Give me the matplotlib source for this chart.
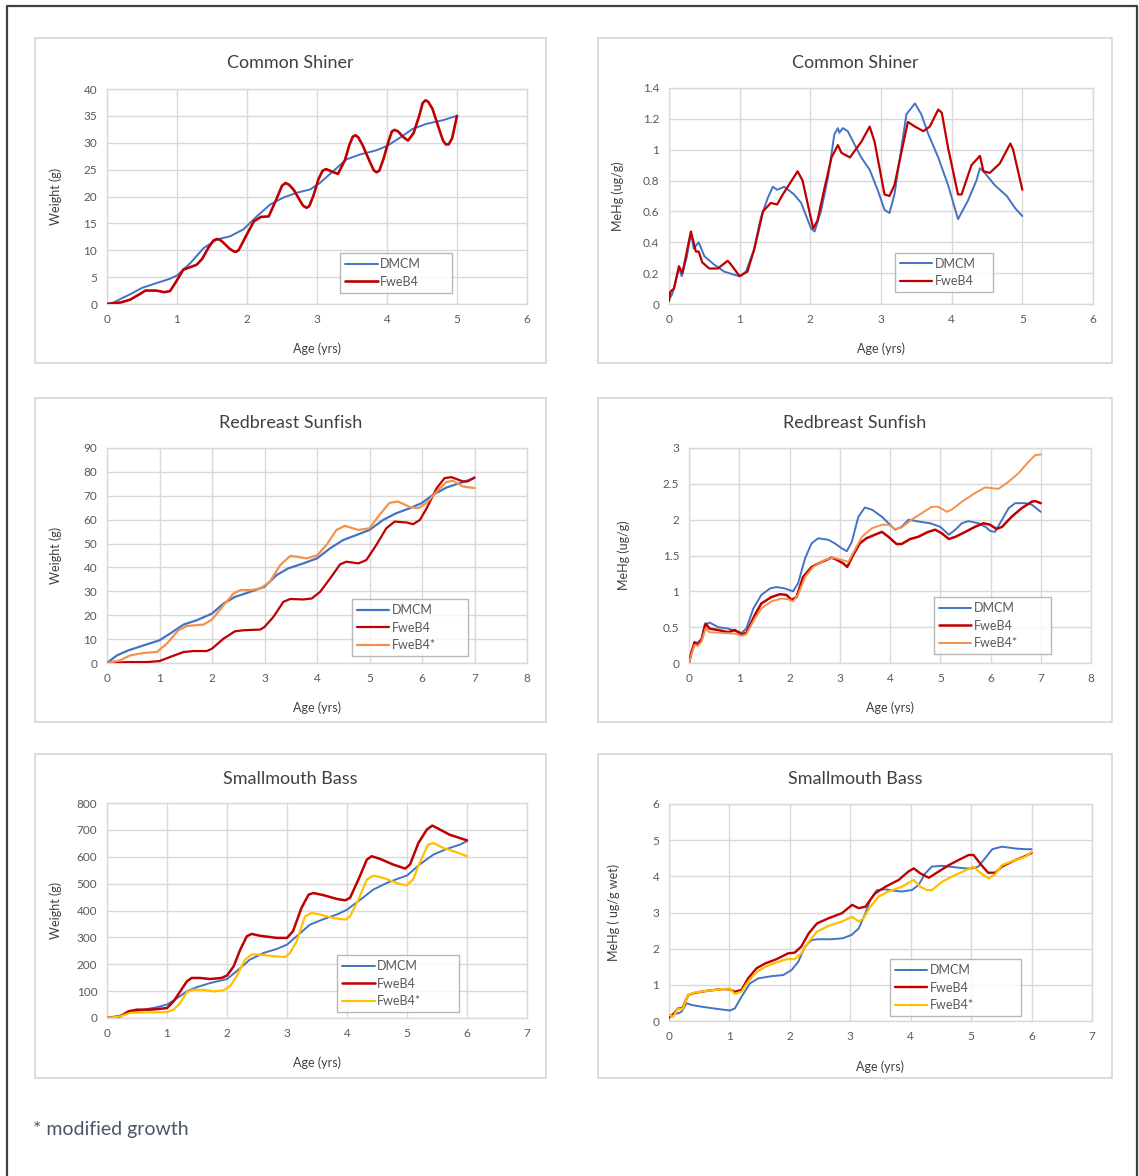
import numpy as np
import matplotlib
matplotlib.use("Agg")
import matplotlib.pyplot as plt
from matplotlib.patches import Rectangle
from matplotlib.lines import Line2D
from matplotlib.ticker import MultipleLocator, FuncFormatter

plt.rcParams["font.family"] = ["Lato", "DejaVu Sans"]

# --- Common Shiner, weight (g) ---
cs_wt_dmcm_age = [0, 0.1, 0.2, 0.33, 0.5, 0.71, 0.9, 1.0, 1.19, 1.38, 1.57, 1.76, 1.95, 2.14, 2.33,
                  2.52, 2.71, 2.9, 3.04, 3.23, 3.42, 3.61, 3.85, 4.0, 4.18, 4.37, 4.56, 4.8, 5.0]
cs_wt_dmcm = [0, 0.3, 1.0, 1.8, 3.0, 3.9, 4.7, 5.3, 7.6, 10.4, 12.0, 12.6, 13.9, 16.3, 18.5,
              19.8, 20.7, 21.3, 22.5, 24.7, 26.9, 27.8, 28.6, 29.4, 30.9, 32.6, 33.5, 34.2, 35.0]
cs_wt_fwe_age = [0, 0.2, 0.33, 0.45, 0.55, 0.7, 0.82, 0.9, 0.98, 1.09, 1.2, 1.28, 1.36, 1.45, 1.52,
                 1.57, 1.62, 1.68, 1.75, 1.81, 1.84, 1.88, 1.94, 2.02, 2.1, 2.2, 2.31, 2.42, 2.5,
                 2.55, 2.6, 2.67, 2.75, 2.8, 2.85, 2.89, 2.95, 3.02, 3.08, 3.13, 3.2, 3.3, 3.4,
                 3.46, 3.51, 3.55, 3.59, 3.65, 3.75, 3.81, 3.85, 3.89, 3.95, 4.02, 4.07, 4.11,
                 4.16, 4.22, 4.3, 4.38, 4.46, 4.51, 4.55, 4.59, 4.65, 4.72, 4.8, 4.84, 4.88,
                 4.93, 5.0]
cs_wt_fwe = [0, 0.3, 0.8, 1.7, 2.5, 2.5, 2.2, 2.4, 4.0, 6.4, 6.9, 7.3, 8.4, 10.5, 11.8,
             12.1, 11.9, 11.2, 10.3, 9.8, 9.7, 10.0, 11.5, 13.5, 15.4, 16.2, 16.3, 19.5, 22.0,
             22.5, 22.2, 21.2, 19.4, 18.3, 17.9, 18.2, 20.2, 23.2, 24.8, 25.1, 24.7, 24.2, 26.8,
             29.5, 31.1, 31.4, 31.0, 29.6, 26.6, 24.9, 24.5, 24.8, 27.0, 30.2, 32.1, 32.4,
             32.1, 31.2, 30.4, 31.8, 35.0, 37.4, 37.9, 37.6, 36.3, 33.5, 30.4, 29.7, 29.7,
             30.8, 35.0]

# --- Common Shiner, MeHg (ug/g) ---
cs_hg_dmcm_age = [0, 0.04, 0.07, 0.14, 0.18, 0.25, 0.31, 0.35, 0.42, 0.5, 0.64, 0.78, 0.92, 1.0,
                  1.09, 1.2, 1.3, 1.4, 1.47, 1.53, 1.63, 1.77, 1.87, 2.01, 2.06, 2.15, 2.25, 2.34,
                  2.39, 2.41, 2.46, 2.53, 2.63, 2.72, 2.84, 2.96, 3.05, 3.12, 3.19, 3.36, 3.48,
                  3.57, 3.67, 3.81, 3.95, 4.09, 4.23, 4.35, 4.4, 4.45, 4.61, 4.78, 4.9, 5.0]
cs_hg_dmcm = [0.03, 0.06, 0.1, 0.23, 0.18, 0.3, 0.46, 0.36, 0.4, 0.31, 0.255, 0.21, 0.19, 0.18,
              0.21, 0.35, 0.56, 0.69, 0.76, 0.74, 0.76, 0.71, 0.655, 0.49, 0.47, 0.6, 0.82, 1.1,
              1.14, 1.11, 1.14, 1.12, 1.03, 0.95, 0.87, 0.73, 0.61, 0.59, 0.71, 1.23, 1.3,
              1.23, 1.1, 0.95, 0.77, 0.55, 0.67, 0.8, 0.88, 0.86, 0.77, 0.7, 0.62, 0.57]
cs_hg_fwe_age = [0, 0.02, 0.07, 0.14, 0.19, 0.31, 0.38, 0.42, 0.47, 0.57, 0.69, 0.83, 0.87, 1.0,
                 1.11, 1.21, 1.33, 1.44, 1.53, 1.61, 1.82, 1.89, 2.04, 2.1, 2.2, 2.3, 2.39, 2.44,
                 2.56, 2.72, 2.84, 2.91, 3.05, 3.12, 3.19, 3.38, 3.48, 3.6, 3.69, 3.81, 3.86, 3.95,
                 4.09, 4.14, 4.28, 4.4, 4.45, 4.54, 4.68, 4.83, 4.87, 5.0]
cs_hg_fwe = [0.02, 0.08, 0.1, 0.245, 0.2, 0.47, 0.34, 0.34, 0.27, 0.23, 0.23, 0.28, 0.26, 0.18,
             0.21, 0.36, 0.6, 0.655, 0.645, 0.71, 0.86, 0.8, 0.49, 0.54, 0.75, 0.95, 1.03, 0.98,
             0.95, 1.05, 1.15, 1.05, 0.71, 0.7, 0.77, 1.18, 1.15, 1.12, 1.15, 1.26, 1.24, 1.01,
             0.71, 0.71, 0.9, 0.96, 0.86, 0.85, 0.91, 1.04, 1.0, 0.74]

# --- Redbreast Sunfish, weight (g) ---
rb_wt_dmcm_age = [0, 0.19, 0.41, 0.7, 1.0, 1.2, 1.46, 1.71, 2.0, 2.22, 2.44, 2.73, 3.0, 3.23, 3.45,
                  3.74, 4.0, 4.25, 4.5, 4.79, 5.0, 5.26, 5.51, 5.77, 6.0, 6.21, 6.47, 6.72, 7.0]
rb_wt_dmcm = [0, 3.2, 5.3, 7.4, 9.5, 12.3, 16.1, 17.9, 20.7, 24.9, 27.7, 29.8, 31.9, 36.8, 39.6,
              41.7, 43.8, 48.0, 51.5, 53.9, 55.7, 59.9, 62.7, 64.8, 67.0, 70.4, 73.5, 75.3, 77.4]
rb_wt_fwe_age = [0, 0.44, 0.76, 1.0, 1.2, 1.46, 1.65, 1.9, 2.0, 2.22, 2.44, 2.6, 2.92, 3.0, 3.17,
                 3.36, 3.49, 3.74, 3.9, 4.06, 4.25, 4.44, 4.56, 4.79, 4.94, 5.13, 5.32, 5.48, 5.71,
                 5.83, 5.96, 6.09, 6.28, 6.43, 6.56, 6.78, 6.87, 7.0]
rb_wt_fwe = [0, 0.4, 0.4, 0.8, 2.5, 4.6, 5.0, 5.0, 6.0, 10.2, 13.3, 13.7, 14.0, 15.1, 19.3,
             25.6, 26.8, 26.6, 27.0, 29.8, 35.4, 41.3, 42.4, 41.7, 43.1, 49.4, 56.4, 59.2, 58.8,
             58.1, 59.9, 64.8, 73.2, 77.4, 77.8, 76.0, 76.0, 77.7]
rb_wt_mod_age = [0, 0.25, 0.44, 0.7, 0.95, 1.14, 1.36, 1.52, 1.84, 2.0, 2.22, 2.41, 2.54, 2.73,
                 2.92, 3.1, 3.3, 3.49, 3.61, 3.8, 4.0, 4.18, 4.37, 4.53, 4.79, 5.0, 5.19, 5.38,
                 5.54, 5.77, 5.93, 6.09, 6.28, 6.47, 6.59, 6.78, 7.0]
rb_wt_mod = [0, 1.1, 3.2, 4.2, 4.6, 8.1, 13.7, 15.5, 16.1, 18.2, 24.2, 29.1, 30.5, 30.5,
             31.2, 34.0, 41.0, 44.8, 44.5, 43.8, 45.0, 49.4, 55.7, 57.4, 55.7, 56.4, 62.0, 67.0,
             67.6, 65.3, 64.8, 67.0, 71.8, 75.8, 76.3, 73.9, 73.2]

# --- Redbreast Sunfish, MeHg (ug/g) ---
rb_hg_dmcm_age = [0, 0.05, 0.11, 0.18, 0.25, 0.31, 0.41, 0.58, 0.78, 0.91, 1.05, 1.14, 1.28, 1.44,
                  1.61, 1.74, 1.91, 2.07, 2.17, 2.31, 2.44, 2.57, 2.77, 2.9, 3.04, 3.14, 3.24, 3.37,
                  3.5, 3.64, 3.84, 4.0, 4.1, 4.23, 4.37, 4.6, 4.8, 5.0, 5.17, 5.3, 5.43, 5.56,
                  5.76, 5.9, 6.0, 6.09, 6.23, 6.36, 6.49, 6.69, 6.82, 7.0]
rb_hg_dmcm = [0.01, 0.15, 0.27, 0.29, 0.34, 0.53, 0.565, 0.5, 0.48, 0.45, 0.42, 0.48, 0.76, 0.95,
              1.04, 1.06, 1.04, 1.0, 1.11, 1.46, 1.67, 1.74, 1.72, 1.67, 1.6, 1.56, 1.69, 2.04,
              2.17, 2.14, 2.04, 1.93, 1.86, 1.9, 2.0, 1.97, 1.95, 1.9, 1.79, 1.86, 1.95, 1.98,
              1.95, 1.9, 1.84, 1.83, 2.0, 2.16, 2.23, 2.23, 2.21, 2.11]
rb_hg_fwe_age = [0, 0.05, 0.11, 0.18, 0.25, 0.33, 0.41, 0.58, 0.78, 0.91, 1.05, 1.14, 1.31, 1.44,
                 1.64, 1.81, 1.94, 2.04, 2.14, 2.27, 2.44, 2.64, 2.84, 2.94, 3.07, 3.15, 3.27, 3.4,
                 3.53, 3.7, 3.84, 3.97, 4.13, 4.23, 4.4, 4.56, 4.76, 4.9, 5.03, 5.17, 5.3, 5.5,
                 5.69, 5.86, 5.99, 6.12, 6.23, 6.42, 6.62, 6.82, 6.89, 7.0]
rb_hg_fwe = [0.0, 0.15, 0.29, 0.26, 0.32, 0.55, 0.48, 0.46, 0.43, 0.46, 0.4, 0.42, 0.67, 0.83,
             0.92, 0.96, 0.95, 0.88, 0.92, 1.2, 1.34, 1.41, 1.47, 1.44, 1.39, 1.34, 1.51, 1.67,
             1.74, 1.79, 1.83, 1.76, 1.66, 1.66, 1.73, 1.76, 1.83, 1.86, 1.81, 1.73, 1.76, 1.83,
             1.9, 1.95, 1.93, 1.87, 1.9, 2.04, 2.16, 2.25, 2.26, 2.23]
rb_hg_mod_age = [0, 0.05, 0.11, 0.18, 0.25, 0.33, 0.41, 0.64, 0.91, 1.05, 1.14, 1.31, 1.44, 1.64,
                 1.84, 1.97, 2.07, 2.17, 2.31, 2.47, 2.71, 2.87, 3.04, 3.17, 3.3, 3.44, 3.64, 3.84,
                 3.97, 4.1, 4.23, 4.43, 4.63, 4.83, 4.96, 5.13, 5.23, 5.43, 5.69, 5.89, 6.02, 6.16,
                 6.36, 6.56, 6.76, 6.89, 7.0]
rb_hg_mod = [0.0, 0.12, 0.25, 0.24, 0.3, 0.48, 0.43, 0.42, 0.41, 0.38, 0.4, 0.62, 0.76, 0.86,
             0.9, 0.89, 0.86, 0.95, 1.2, 1.34, 1.44, 1.47, 1.44, 1.41, 1.58, 1.76, 1.88, 1.93,
             1.93, 1.87, 1.89, 2.0, 2.09, 2.18, 2.18, 2.11, 2.14, 2.25, 2.37, 2.45, 2.44, 2.43,
             2.53, 2.65, 2.81, 2.9, 2.91]

# --- Smallmouth Bass, weight (g) ---
sb_wt_dmcm_age = [0, 0.22, 0.39, 0.61, 0.83, 1.0, 1.17, 1.33, 1.5, 1.72, 2.0, 2.16, 2.38, 2.61,
                  2.83, 3.0, 3.16, 3.38, 3.61, 3.83, 4.0, 4.22, 4.44, 4.66, 4.88, 5.0, 5.21, 5.44,
                  5.66, 5.88, 6.0]
sb_wt_dmcm = [0, 9, 21, 31, 40, 50, 74, 99, 115, 130, 145, 174, 217, 242,
              257, 273, 304, 347, 368, 385, 403, 440, 478, 502, 521, 530, 571, 608,
              629, 645, 658]
sb_wt_fwe_age = [0, 0.22, 0.36, 0.5, 0.72, 0.92, 1.0, 1.11, 1.22, 1.33, 1.41, 1.55, 1.72, 1.91,
                 2.0, 2.11, 2.22, 2.33, 2.41, 2.55, 2.83, 3.0, 3.1, 3.24, 3.36, 3.44, 3.61, 3.83,
                 3.97, 4.05, 4.19, 4.33, 4.41, 4.55, 4.77, 4.97, 5.05, 5.19, 5.33, 5.42, 5.5,
                 5.71, 6.0]
sb_wt_fwe = [0, 6, 25, 31, 31, 35, 37, 62, 99, 136, 149, 149, 145, 149,
             158, 192, 254, 304, 313, 306, 298, 298, 323, 409, 459, 465, 457, 443,
             438, 447, 515, 589, 602, 592, 571, 556, 571, 651, 701, 716, 707,
             682, 661]
sb_wt_mod_age = [0, 0.22, 0.39, 0.61, 0.83, 1.0, 1.11, 1.22, 1.33, 1.44, 1.61, 1.77, 1.94, 2.05,
                 2.16, 2.3, 2.41, 2.55, 2.77, 2.97, 3.05, 3.16, 3.3, 3.41, 3.55, 3.77, 3.97, 4.05,
                 4.19, 4.33, 4.44, 4.61, 4.83, 4.99, 5.1, 5.21, 5.35, 5.44, 5.6, 5.82, 6.0]
sb_wt_mod = [0, 6, 19, 21, 21, 22, 31, 56, 96, 105, 105, 99, 103, 118,
             155, 217, 236, 236, 230, 227, 242, 285, 378, 391, 385, 372, 366, 378,
             440, 515, 530, 521, 502, 493, 515, 577, 645, 651, 633, 617, 602]

# --- Smallmouth Bass, MeHg (ug/g wet) ---
sb_hg_dmcm_age = [0, 0.07, 0.15, 0.21, 0.29, 0.38, 0.6, 0.82, 1.01, 1.09, 1.2, 1.34, 1.48, 1.7,
                  1.89, 2.03, 2.14, 2.25, 2.36, 2.47, 2.69, 2.88, 3.02, 3.14, 3.25, 3.33, 3.44,
                  3.58, 3.74, 3.85, 4.02, 4.13, 4.24, 4.35, 4.52, 4.74, 4.9, 5.01, 5.12, 5.23,
                  5.35, 5.51, 5.73, 5.9, 6.0]
sb_hg_dmcm = [0.07, 0.21, 0.21, 0.26, 0.49, 0.44, 0.38, 0.33, 0.29, 0.35, 0.67, 1.04, 1.18, 1.24,
              1.27, 1.41, 1.64, 2.06, 2.24, 2.26, 2.26, 2.29, 2.38, 2.56, 2.98, 3.35, 3.62,
              3.64, 3.6, 3.58, 3.62, 3.76, 4.08, 4.27, 4.29, 4.25, 4.22, 4.22, 4.27, 4.5,
              4.75, 4.82, 4.77, 4.75, 4.75]
sb_hg_fwe_age = [0, 0.07, 0.15, 0.22, 0.32, 0.43, 0.65, 0.87, 1.0, 1.09, 1.2, 1.31, 1.45, 1.59,
                 1.78, 1.97, 2.08, 2.19, 2.31, 2.45, 2.64, 2.86, 3.03, 3.14, 3.25, 3.41, 3.58,
                 3.8, 3.96, 4.05, 4.16, 4.3, 4.46, 4.63, 4.79, 4.96, 5.04, 5.17, 5.28, 5.4, 5.51,
                 5.73, 5.9, 6.0]
sb_hg_fwe = [0.12, 0.17, 0.35, 0.35, 0.72, 0.78, 0.84, 0.88, 0.88, 0.81, 0.86, 1.18, 1.46, 1.59,
             1.71, 1.87, 1.89, 2.06, 2.42, 2.7, 2.84, 2.98, 3.21, 3.12, 3.16, 3.53, 3.71,
             3.9, 4.13, 4.22, 4.08, 3.96, 4.13, 4.31, 4.45, 4.59, 4.59, 4.31, 4.1, 4.1, 4.27,
             4.45, 4.56, 4.65]
sb_hg_mod_age = [0, 0.07, 0.15, 0.22, 0.32, 0.43, 0.65, 0.87, 1.0, 1.09, 1.2, 1.31, 1.45, 1.59,
                 1.78, 1.95, 2.08, 2.19, 2.31, 2.45, 2.64, 2.86, 3.03, 3.14, 3.22, 3.33, 3.47,
                 3.63, 3.85, 4.05, 4.16, 4.27, 4.35, 4.52, 4.74, 4.9, 5.04, 5.15, 5.29, 5.4,
                 5.51, 5.73, 5.9, 6.0]
sb_hg_mod = [0.17, 0.12, 0.35, 0.32, 0.72, 0.79, 0.84, 0.88, 0.9, 0.75, 0.81, 1.09, 1.36, 1.5,
             1.62, 1.71, 1.71, 1.87, 2.19, 2.47, 2.63, 2.75, 2.88, 2.75, 2.84, 3.16, 3.44,
             3.58, 3.71, 3.9, 3.71, 3.62, 3.62, 3.85, 4.04, 4.16, 4.27, 4.1, 3.94, 4.06,
             4.31, 4.45, 4.54, 4.68]

BLUE = "#4472C4"
RED = "#C00000"
ORANGE = "#F4914B"
YELLOW = "#FFC000"

W, H = 1139, 1176
fig = plt.figure(figsize=(W / 100, H / 100), dpi=100)


def px_rect(x0, y0, x1, y1):
    # pixel box (top-left origin) -> figure fraction rect
    return [x0 / W, 1 - y1 / H, (x1 - x0) / W, (y1 - y0) / H]


# outer frame (left, top, right)
fig.add_artist(Line2D([7 / W, 7 / W, 1137 / W, 1137 / W], [0, 1 - 6 / H, 1 - 6 / H, 0],
                      color="#404040", lw=1.6, transform=fig.transFigure))

panels = [(35, 38, 546, 363), (598, 38, 1112, 363),
          (35, 398, 546, 722), (598, 398, 1112, 722),
          (35, 754, 546, 1078), (598, 754, 1112, 1078)]
for x0, y0, x1, y1 in panels:
    r = px_rect(x0, y0, x1, y1)
    fig.add_artist(Rectangle((r[0], r[1]), r[2], r[3], transform=fig.transFigure,
                             fill=False, edgecolor="#d9d9d9", lw=1.3))


def make_chart(box, panel, title, ylabel, xmax, ymax, ystep, series, leg_box, ylab_x):
    ax = fig.add_axes(px_rect(*box))
    for age, vals, color, lw, label in series:
        ax.plot(age, vals, color=color, lw=lw, label=label, solid_joinstyle="round",
                solid_capstyle="round", zorder=3)
    ax.set_xlim(0, xmax)
    ax.set_ylim(0, ymax)
    ax.xaxis.set_major_locator(MultipleLocator(1))
    ax.yaxis.set_major_locator(MultipleLocator(ystep))
    ax.yaxis.set_major_formatter(FuncFormatter(lambda v, p: f"{round(v, 2):g}"))
    ax.grid(True, color="#d9d9d9", lw=1.0)
    ax.set_axisbelow(True)
    for s in ax.spines.values():
        s.set_color("#d9d9d9")
        s.set_linewidth(1.0)
    ax.tick_params(length=0, labelsize=8.5, colors="#595959", pad=7)
    ax.set_xlabel("Age (yrs)", fontsize=9, color="#404040")
    ax.xaxis.set_label_coords(0.5, -0.18)
    ax.set_ylabel(ylabel, fontsize=9, color="#404040")
    ax.yaxis.set_label_coords(ylab_x, 0.5)
    # title centered on the panel
    px0, py0, px1, py1 = panel
    fig.text(((px0 + px1) / 2) / W, 1 - (py0 + 25) / H, title, ha="center", va="center",
             fontsize=13, color="#404040")
    lx0, ly0, lx1, ly1 = leg_box
    leg = ax.legend(loc="upper left", bbox_to_anchor=(lx0, ly0, lx1 - lx0, ly1 - ly0),
                    mode="expand", fontsize=9, frameon=True, fancybox=False,
                    handlelength=2.6, handletextpad=0.2, labelspacing=0.45,
                    borderpad=0.4, borderaxespad=0)
    leg.get_frame().set_edgecolor("#a6a6a6")
    leg.get_frame().set_linewidth(1.0)
    for t in leg.get_texts():
        t.set_color("#595959")
    return ax


make_chart((107, 89, 527, 304), panels[0], "Common Shiner", "Weight (g)", 6, 40, 5,
           [(cs_wt_dmcm_age, cs_wt_dmcm, BLUE, 1.4, "DMCM"),
            (cs_wt_fwe_age, cs_wt_fwe, RED, 1.9, "FweB4")],
           (0.555, 0.051, 0.821, 0.237), -0.107)

make_chart((669, 88, 1093, 304), panels[1], "Common Shiner", "MeHg (ug/g)", 6, 1.4, 0.2,
           [(cs_hg_dmcm_age, cs_hg_dmcm, BLUE, 1.4, "DMCM"),
            (cs_hg_fwe_age, cs_hg_fwe, RED, 1.6, "FweB4")],
           (0.533, 0.056, 0.764, 0.237), -0.106)

make_chart((107, 448, 527, 663), panels[2], "Redbreast Sunfish", "Weight (g)", 8, 90, 10,
           [(rb_wt_dmcm_age, rb_wt_dmcm, BLUE, 1.6, "DMCM"),
            (rb_wt_fwe_age, rb_wt_fwe, RED, 1.6, "FweB4"),
            (rb_wt_mod_age, rb_wt_mod, ORANGE, 1.6, "FweB4*")],
           (0.583, 0.047, 0.860, 0.298), -0.107)

make_chart((689, 448, 1091, 663), panels[3], "Redbreast Sunfish", "MeHg (ug/g)", 8, 3, 0.5,
           [(rb_hg_dmcm_age, rb_hg_dmcm, BLUE, 1.4, "DMCM"),
            (rb_hg_fwe_age, rb_hg_fwe, RED, 1.8, "FweB4"),
            (rb_hg_mod_age, rb_hg_mod, ORANGE, 1.4, "FweB4*")],
           (0.609, 0.051, 0.900, 0.307), -0.147)

make_chart((107, 803, 527, 1018), panels[4], "Smallmouth Bass", "Weight (g)", 7, 800, 100,
           [(sb_wt_dmcm_age, sb_wt_dmcm, BLUE, 1.4, "DMCM"),
            (sb_wt_fwe_age, sb_wt_fwe, RED, 1.8, "FweB4"),
            (sb_wt_mod_age, sb_wt_mod, YELLOW, 1.6, "FweB4*")],
           (0.548, 0.051, 0.838, 0.293), -0.107)

make_chart((669, 804, 1092, 1021), panels[5], "Smallmouth Bass", "MeHg ( ug/g wet)", 7, 6, 1,
           [(sb_hg_dmcm_age, sb_hg_dmcm, BLUE, 1.4, "DMCM"),
            (sb_hg_fwe_age, sb_hg_fwe, RED, 1.7, "FweB4"),
            (sb_hg_mod_age, sb_hg_mod, YELLOW, 1.6, "FweB4*")],
           (0.522, 0.055, 0.832, 0.286), -0.116)

fig.text(33 / W, 1 - 1130 / H, "* modified growth", ha="left", va="center",
         fontsize=14, color="#4a5568")

fig.savefig("out.png", dpi=100, facecolor="white")
